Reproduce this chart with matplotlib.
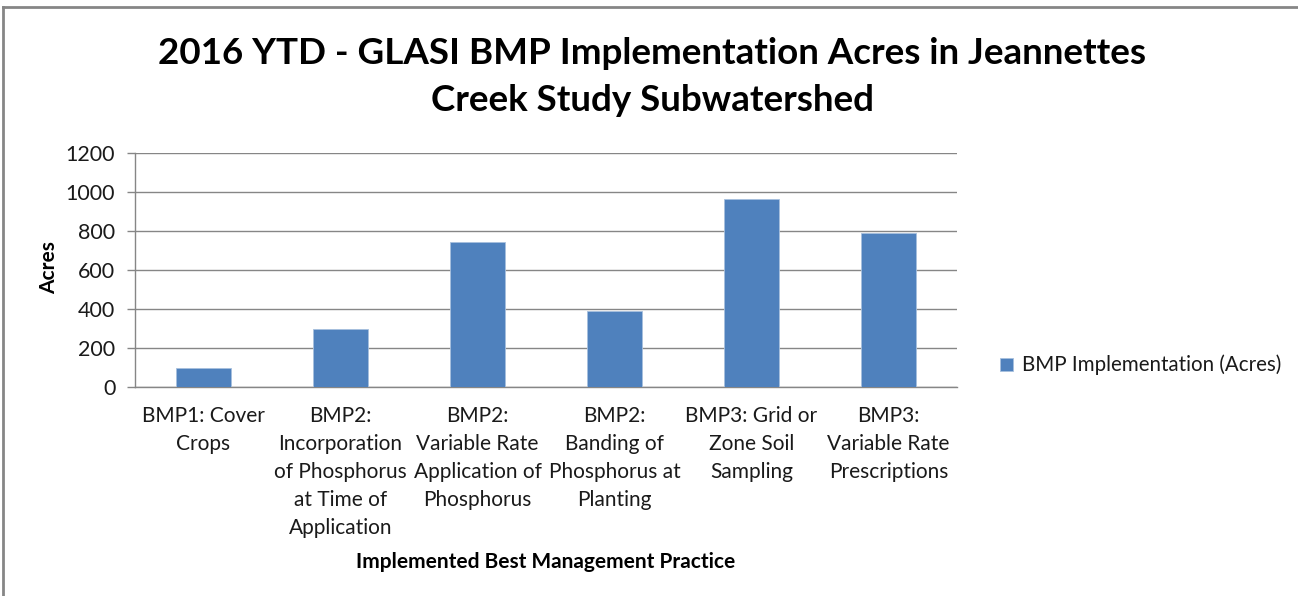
import matplotlib
matplotlib.use("Agg")
import matplotlib.pyplot as plt
from matplotlib.lines import Line2D

categories = [
    "BMP1: Cover\nCrops",
    "BMP2:\nIncorporation\nof Phosphorus\nat Time of\nApplication",
    "BMP2:\nVariable Rate\nApplication of\nPhosphorus",
    "BMP2:\nBanding of\nPhosphorus at\nPlanting",
    "BMP3: Grid or\nZone Soil\nSampling",
    "BMP3:\nVariable Rate\nPrescriptions",
]
acres = [100, 300, 743, 389, 965, 787]
series_name = "BMP Implementation (Acres)"
y_ticks = [0, 200, 400, 600, 800, 1000, 1200]
title = "2016 YTD - GLASI BMP Implementation Acres in Jeannettes\nCreek Study Subwatershed"
x_label = "Implemented Best Management Practice"
y_label = "Acres"

plt.rcParams['font.family'] = ['Lato', 'DejaVu Sans']

W, H = 1298, 596
fig = plt.figure(figsize=(W / 100, H / 100), dpi=100)
fig.patch.set_facecolor('white')

ax = fig.add_axes([135 / W, 1 - 387.3 / H, (957 - 135) / W, (387.3 - 152.7) / H])
x = list(range(len(categories)))
ax.bar(x, acres, width=0.4, color='#4F81BD', edgecolor='#A7C0DE', linewidth=0.6,
       label=series_name, zorder=3)
ax.set_xlim(-0.5, len(categories) - 0.5)
ax.set_ylim(0, 1200)
ax.set_yticks(y_ticks)
ax.set_yticklabels([str(v) for v in y_ticks])
ax.set_xticks(x)
ax.set_xticklabels(categories, fontsize=15, color='#1a1a1a', linespacing=1.5)
ax.tick_params(axis='x', length=0, pad=13.8)
ax.tick_params(axis='y', length=5.8, width=1, color='#868686', labelsize=15.5,
               labelcolor='#1a1a1a', pad=8.4)
ax.grid(axis='y', color='#868686', linewidth=1, zorder=0)
for s in ['top', 'right']:
    ax.spines[s].set_visible(False)
for s in ['left', 'bottom']:
    ax.spines[s].set_color('#868686')
    ax.spines[s].set_linewidth(1)

fig.text(652 / W, 1 - 77 / H, title, ha='center', va='center', fontsize=26.5,
         fontweight='bold', color='#000000', linespacing=1.55)
fig.text(546 / W, 1 - 562 / H, x_label, ha='center', va='center', fontsize=15,
         fontweight='bold', color='#000000')
fig.text(49 / W, 1 - 268 / H, y_label, ha='center', va='center', fontsize=15,
         fontweight='bold', color='#000000', rotation=90)

leg = ax.legend(loc='center left', bbox_to_anchor=(990 / W, 1 - 365 / H),
                bbox_transform=fig.transFigure, frameon=False, fontsize=14.8,
                handlelength=0.6, handleheight=0.6, handletextpad=0.45,
                borderpad=0, labelcolor='#1a1a1a')

fig.add_artist(Line2D([3 / W, 3 / W], [0, 1 - 7 / H], transform=fig.transFigure,
                      color='#868686', linewidth=2))
fig.add_artist(Line2D([3 / W, 1], [1 - 7 / H, 1 - 7 / H], transform=fig.transFigure,
                      color='#868686', linewidth=2))

fig.savefig('out.png', dpi=100)
